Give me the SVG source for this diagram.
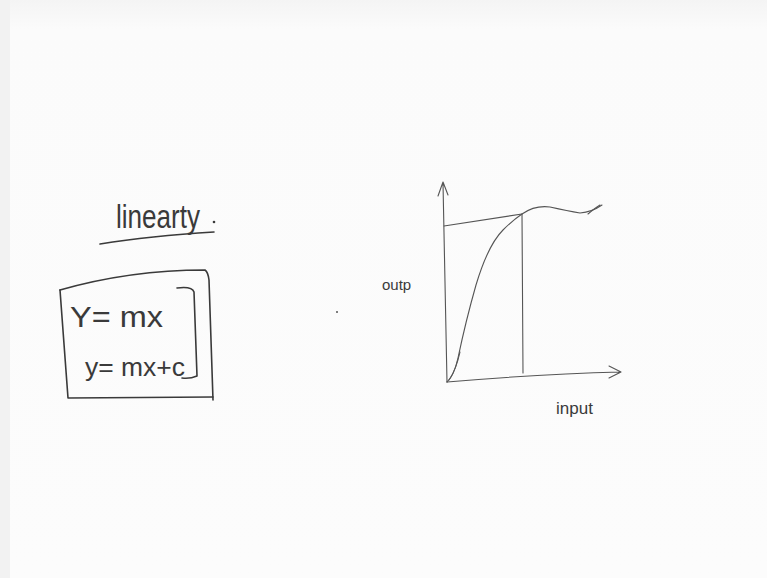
<svg xmlns="http://www.w3.org/2000/svg" width="767" height="578" viewBox="0 0 767 578">
<style>
.ink{fill:none;stroke:#3a3a3a;stroke-width:1.6;stroke-linecap:round;stroke-linejoin:round}
.thin{fill:none;stroke:#555;stroke-width:1.1;stroke-linecap:round;stroke-linejoin:round}
.hw{font-family:"Liberation Sans",Arial,sans-serif;fill:#3a3a3a}
</style>
<defs>
<linearGradient id="bg" x1="0" y1="0" x2="0" y2="1">
<stop offset="0" stop-color="#f4f4f4"/>
<stop offset="0.05" stop-color="#fbfbfb"/>
<stop offset="1" stop-color="#fcfcfc"/>
</linearGradient>
</defs>
<rect width="767" height="578" fill="url(#bg)"/>
<rect x="0" y="0" width="10" height="578" fill="#f2f2f2"/>
<g id="title">
<text class="hw" x="116" y="228" font-size="34" textLength="84" lengthAdjust="spacingAndGlyphs">linearty</text>
<circle cx="214" cy="222" r="1.3" fill="#3a3a3a"/>
<path class="ink" d="M100 244 Q150 236 214 232"/>
</g>
<g id="box">
<path class="ink" d="M60 290 Q130 270 205 270 Q208 272 209 280 L213 400"/>
<path class="ink" d="M60 290 L68 398 L213 397"/>
<text class="hw" x="70" y="327" font-size="30" textLength="93" lengthAdjust="spacingAndGlyphs">Y= mx</text>
<path class="ink" d="M177 288 Q192 286 194 292 L197 376 Q190 379 182 378"/>
<text class="hw" x="85" y="376" font-size="25" textLength="100" lengthAdjust="spacingAndGlyphs">y= mx+c</text>
</g>
<g id="graph">
<path class="thin" d="M447 382 L443 183 M438 196 L443 182 L448 195"/>
<path class="thin" d="M447 382 Q540 374 621 372 M609 366 L621 372 L609 378"/>
<path class="thin" d="M444 226 Q470 222 522 214"/>
<path class="thin" d="M522 214 L523 373"/>
<path class="thin" d="M447 382 Q454 376 458 358 Q466 320 476 285 Q488 245 503 230 Q513 220 522 214 Q535 205 550 207 Q568 211 580 213 Q592 212 602 205"/>
<path class="thin" d="M449 380 Q456 370 460 352 M588 214 Q595 208 600 205"/>
<text class="hw" x="382" y="290" font-size="15">outp</text>
<text class="hw" x="556" y="414" font-size="17">input</text>
</g>
<circle cx="337" cy="312" r="1" fill="#555"/>
</svg>
